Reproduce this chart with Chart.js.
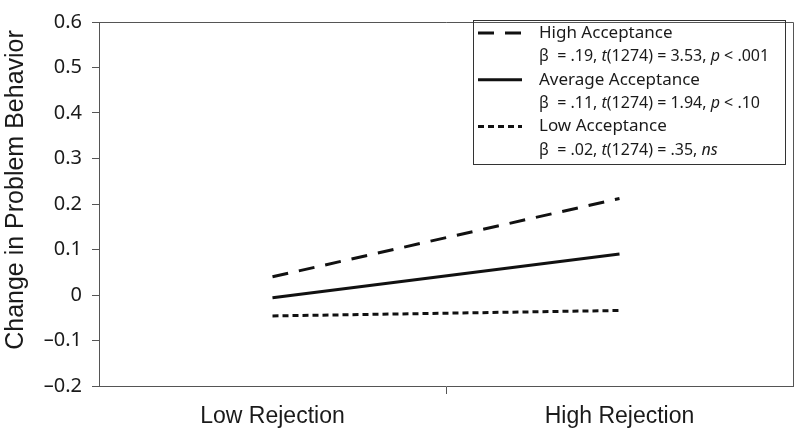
<!DOCTYPE html>
<html>
<head>
<meta charset="utf-8">
<script src="https://cdn.jsdelivr.net/npm/chart.js@4"></script>
<style>
  body { margin: 0; background: #fff; }
  #wrap { width: 800px; height: 434px; position: relative; }
</style>
</head>
<body>
<div id="wrap"><canvas id="chart"></canvas></div>
<script>
// data
const categories = ['Low Rejection', 'High Rejection'];
const highAcceptance = [0.04, 0.212];
const averageAcceptance = [-0.006, 0.09];
const lowAcceptance = [-0.046, -0.034];
const seriesNames = ['High Acceptance', 'Average Acceptance', 'Low Acceptance'];
// [text, italic?]
const seriesStats = [
    [['β  = .19, ', false], ['t', true], ['(1274) = 3.53, ', false], ['p', true], [' < .001', false]],
    [['β  = .11, ', false], ['t', true], ['(1274) = 1.94, ', false], ['p', true], [' < .10', false]],
    [['β  = .02, ', false], ['t', true], ['(1274) = .35, ', false], ['ns', true]]
];
const yMin = -0.2, yMax = 0.6, yStep = 0.1;
const yTitle = 'Change in Problem Behavior';

const axisColor = '#555';
const textColor = '#1a1a1a';
const legendFont = '"Noto Sans", sans-serif';
const helv = '"Liberation Sans", Arial, sans-serif';

// frame round the plot (top + right side) and the y title
const framePlugin = {
    id: 'frame',
    afterDraw(chart) {
        const { ctx, chartArea: a } = chart;
        ctx.save();
        ctx.strokeStyle = axisColor;
        ctx.lineWidth = 1;
        ctx.beginPath();
        ctx.moveTo(a.left, a.top + 0.5);
        ctx.lineTo(a.right + 0.5, a.top + 0.5);
        ctx.lineTo(a.right + 0.5, a.bottom);
        ctx.stroke();

        // y title, sits a bit above the plot middle in the original
        ctx.translate(23, 190);
        ctx.rotate(-Math.PI / 2);
        ctx.fillStyle = textColor;
        ctx.font = '25px ' + helv;
        ctx.textAlign = 'center';
        ctx.textBaseline = 'alphabetic';
        ctx.fillText(yTitle, 0, 0);
        ctx.restore();
    }
};

// boxed legend with the stats lines
const boxLegend = {
    id: 'boxLegend',
    afterDraw(chart) {
        const ctx = chart.ctx;
        const bx = 473, by = 20, bw = 312, bh = 144;
        const rowH = 23.4;
        ctx.save();
        ctx.strokeStyle = '#333';
        ctx.lineWidth = 1;
        ctx.strokeRect(bx + 0.5, by + 0.5, bw, bh);
        ctx.fillStyle = textColor;
        ctx.textBaseline = 'middle';
        chart.data.datasets.forEach((ds, i) => {
            const y1 = by + 13 + i * 2 * rowH;
            const y2 = y1 + rowH;
            ctx.save();
            ctx.strokeStyle = ds.borderColor;
            ctx.lineWidth = ds.borderWidth;
            ctx.setLineDash(ds.borderDash || []);
            ctx.beginPath();
            ctx.moveTo(478, y1);
            ctx.lineTo(522, y1);
            ctx.stroke();
            ctx.restore();
            ctx.font = '17px ' + legendFont;
            ctx.fillText(seriesNames[i], 539, y1);
            let x = 539;
            seriesStats[i].forEach(([txt, it]) => {
                ctx.font = (it ? 'italic ' : '') + '16px ' + legendFont;
                ctx.fillText(txt, x, y2);
                x += ctx.measureText(txt).width;
            });
        });
        ctx.restore();
    }
};

const lineStyle = { borderColor: '#111', borderWidth: 3, pointRadius: 0, tension: 0, fill: false, borderCapStyle: 'butt' };

new Chart(document.getElementById('chart'), {
    type: 'line',
    data: {
        labels: categories,
        datasets: [
            { label: seriesNames[0], data: highAcceptance, ...lineStyle, borderDash: [16, 11] },
            { label: seriesNames[1], data: averageAcceptance, ...lineStyle },
            { label: seriesNames[2], data: lowAcceptance, ...lineStyle, borderDash: [6, 4] }
        ]
    },
    options: {
        responsive: true,
        maintainAspectRatio: false,
        animation: false,
        layout: { padding: { left: 0, top: 12, right: 7, bottom: 0 } },
        plugins: { legend: { display: false }, tooltip: { enabled: false } },
        scales: {
            x: {
                offset: true,
                afterFit: s => { s.height = 48; },
                grid: {
                    offset: true,
                    drawOnChartArea: false,
                    tickLength: 8,
                    color: c => c.index === 1 ? axisColor : 'rgba(0,0,0,0)'
                },
                border: { display: true, color: axisColor },
                ticks: {
                    color: textColor,
                    padding: 9,
                    font: { family: helv, size: 23 }
                }
            },
            y: {
                min: yMin,
                max: yMax,
                afterFit: s => { s.width = 99; },
                grid: { drawOnChartArea: false, tickLength: 7, color: axisColor },
                border: { display: true, color: axisColor },
                ticks: {
                    stepSize: yStep,
                    color: textColor,
                    padding: 10,
                    font: { family: legendFont, size: 20 },
                    callback: v => Math.abs(v) < 1e-9 ? '0' : v.toFixed(1).replace('-', '–')
                }
            }
        }
    },
    plugins: [framePlugin, boxLegend]
});
</script>
</body>
</html>
